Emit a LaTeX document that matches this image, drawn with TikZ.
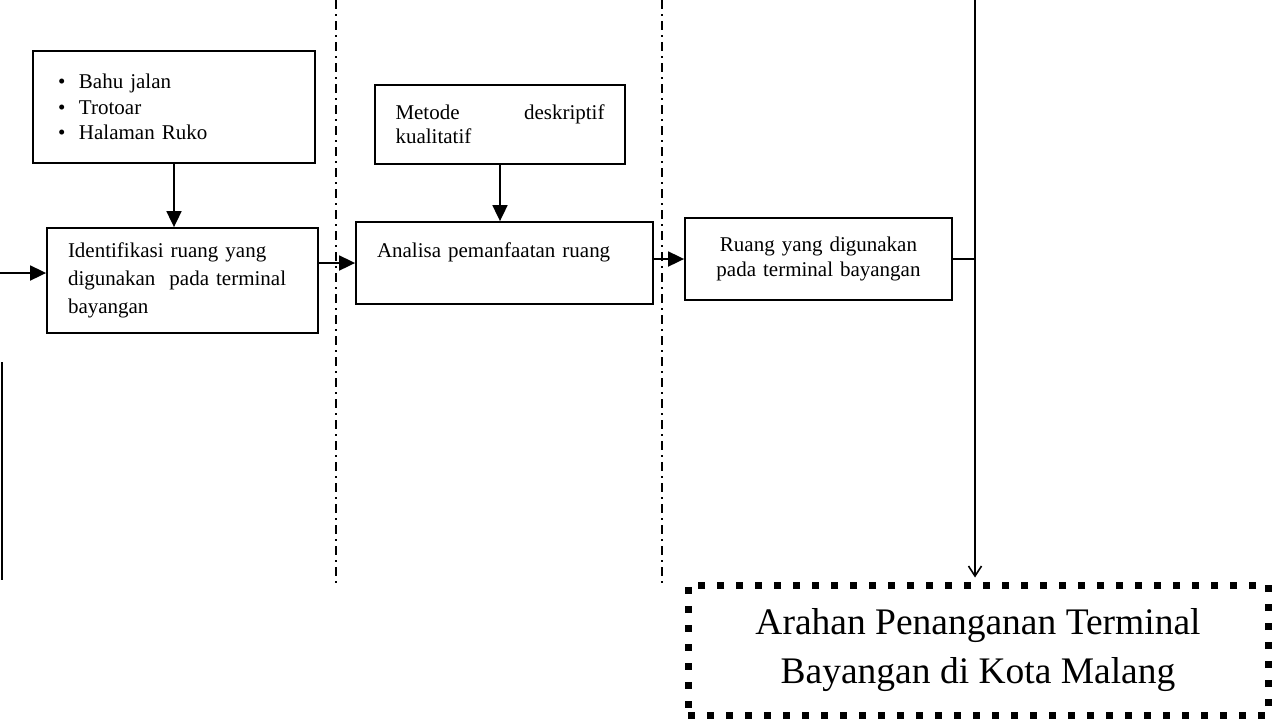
\documentclass[tikz,border=0pt]{standalone}
\usepackage{fontspec}
\setmainfont{Liberation Serif}
\usetikzlibrary{arrows.meta,calc}
\begin{document}
\begin{tikzpicture}[x=1pt,y=-1pt,
  box/.style={draw,line width=1.8pt,inner sep=0pt,font=\fontsize{21}{27}\selectfont},
  conn/.style={line width=1.8pt,-{Triangle[length=16pt,width=15pt]}},
  plain/.style={line width=1.8pt},
  sepline/.style={line width=2pt,dash pattern=on 9pt off 5pt on 2pt off 5pt},
  dotbox/.style={draw,line width=7pt,dash pattern=on 7pt off 12pt,inner sep=0pt,font=\fontsize{37.5}{49}\selectfont,align=center}]
\useasboundingbox (0,0) rectangle (1272,724);

% separators
\coordinate (s1t) at (336,0);
\coordinate (s1b) at (336,585);
\coordinate (s2t) at (662,0);
\coordinate (s2b) at (662,585);
\draw[sepline] (s1t) -- (s1b);
\draw[sepline] (s2t) -- (s2b);

% boxes
\node[box, minimum width=282pt, minimum height=112pt, text width=232pt, align=left,
      font=\fontsize{21}{25.5}\selectfont] (A) at (174,107)
  {\makebox[21pt][l]{•}Bahu jalan\\\makebox[21pt][l]{•}Trotoar\\\makebox[21pt][l]{•}Halaman Ruko};
\node[box, minimum width=271pt, minimum height=105pt, text width=229pt, align=left,
      font=\fontsize{21}{28}\selectfont] (B) at (182.5,280.5)
  {Identifikasi ruang yang\\digunakan\ \ pada terminal\\bayangan};
\node[box, minimum width=250pt, minimum height=79pt, text width=209pt, align=left,
      font=\fontsize{21}{24}\selectfont] (C) at (500,124.5)
  {Metode\hfill deskriptif\\kualitatif};
\node[box, minimum width=297pt, minimum height=82pt, text width=255pt, align=left,
      font=\fontsize{21}{26}\selectfont] (D) at (504.5,263)
  {Analisa pemanfaatan ruang\\\mbox{}};
\node[box, minimum width=267pt, minimum height=82pt, text width=245pt, align=center,
      font=\fontsize{21}{25}\selectfont] (E) at (818.5,259)
  {Ruang yang digunakan\\pada terminal bayangan};
\node[dotbox, minimum width=580pt, minimum height=130pt] (F) at (978,650)
  {Arahan Penanganan Terminal\\Bayangan di Kota Malang};

% connectors
\coordinate (inL) at (0,273);
\draw[conn] (inL) -- (inL -| B.west);
\draw[conn] (A.south) -- (A.south |- B.north);
\draw[conn] (C.south) -- (C.south |- D.north);
\draw[conn] (B.east |- D.west) -- (D.west);
\draw[conn] (D.east |- E.west) -- (E.west);

\coordinate (top) at (975,0);
\draw[plain] (E.east) -- (E.east -| top);
\draw[line width=1.6pt,-{Straight Barb[length=10pt,width=13pt,line width=1.6pt]}] (top) -- ($(top |- F.north)+(0,-4)$);

% left line (cut off part)
\coordinate (l1) at (2,362);
\coordinate (l2) at (2,580);
\draw[plain] (l1) -- (l2);
\end{tikzpicture}
\end{document}
